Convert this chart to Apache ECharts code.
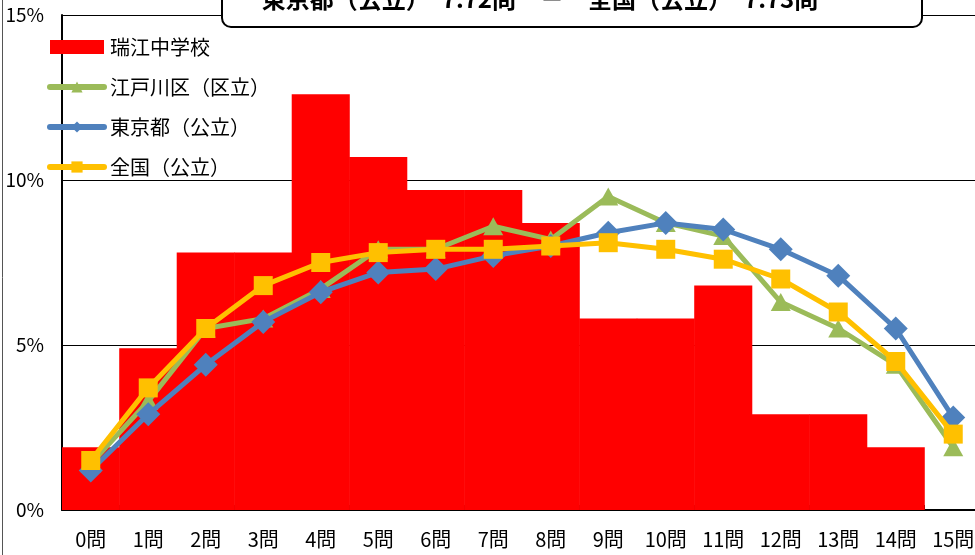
<!DOCTYPE html>
<html>
<head>
<meta charset="utf-8">
<script src="https://cdn.jsdelivr.net/npm/echarts@6/dist/echarts.min.js"></script>
<style>
  html, body { margin: 0; padding: 0; background: #fff; }
  #chart { width: 975px; height: 555px; }
</style>
</head>
<body>
<div id="chart"></div>
<script>
const categories = ['0問', '1問', '2問', '3問', '4問', '5問', '6問', '7問', '8問', '9問', '10問', '11問', '12問', '13問', '14問', '15問'];
const schoolValues = [1.9, 4.9, 7.8, 7.8, 12.6, 10.7, 9.7, 9.7, 8.7, 5.8, 5.8, 6.8, 2.9, 2.9, 1.9, 0];
const edogawaValues = [1.4, 3.3, 5.5, 5.8, 6.7, 7.9, 7.9, 8.6, 8.2, 9.5, 8.7, 8.3, 6.3, 5.5, 4.4, 1.9];
const tokyoValues = [1.2, 2.9, 4.4, 5.7, 6.6, 7.2, 7.3, 7.7, 8.0, 8.4, 8.7, 8.5, 7.9, 7.1, 5.5, 2.8];
const nationalValues = [1.5, 3.7, 5.5, 6.8, 7.5, 7.8, 7.9, 7.9, 8.0, 8.1, 7.9, 7.6, 7.0, 6.0, 4.5, 2.3];
const titleText = '東京都（公立）　7.72問　－　全国（公立）　7.73問';

const chart = echarts.init(document.getElementById('chart'));

const jpFont = '"Noto Sans CJK JP", sans-serif';
const narrowFont = '"Liberation Sans Narrow", "Noto Sans CJK JP", sans-serif';

const lineSeries = (name, data, color, symbol, size, z) => ({
  name,
  type: 'line',
  data,
  z,
  symbol,
  symbolSize: size,
  lineStyle: { color, width: 5 },
  itemStyle: { color },
  emphasis: { disabled: true }
});

const option = {
  animation: false,
  textStyle: { fontFamily: jpFont },
  // plot runs slightly past the right edge of the picture
  grid: { left: 62, width: 920, top: 15, height: 495, outerBoundsMode: 'none' },
  legend: {
    orient: 'vertical',
    left: 47,
    top: 37,
    padding: 0,
    itemWidth: 54,
    itemHeight: 14,
    itemGap: 20,
    lineStyle: { width: 6, cap: 'round' },
    textStyle: { fontSize: 20, color: '#000', fontFamily: jpFont, lineHeight: 20, padding: [0, 0, 0, 1] },
    data: [
      { name: '瑞江中学校', icon: 'rect' },
      '江戸川区（区立）',
      '東京都（公立）',
      '全国（公立）'
    ]
  },
  xAxis: {
    type: 'category',
    data: categories,
    axisLine: { lineStyle: { color: '#000', width: 2 } },
    axisTick: { show: true, inside: true, length: 5, interval: 0, lineStyle: { color: '#000' } },
    axisLabel: { color: '#000', fontSize: 20, fontFamily: narrowFont, margin: 19, interval: 0 }
  },
  yAxis: {
    type: 'value',
    min: 0,
    max: 15,
    interval: 5,
    axisLine: { show: true, lineStyle: { color: '#000', width: 2 } },
    axisTick: { show: false },
    axisLabel: { color: '#000', fontSize: 19, fontFamily: narrowFont, margin: 18, formatter: '{value}%' },
    splitLine: { lineStyle: { color: '#000', width: 1 } }
  },
  series: [
    {
      name: '瑞江中学校',
      type: 'bar',
      data: schoolValues,
      barWidth: '101%',
      itemStyle: { color: '#FF0000' },
      z: 1,
      emphasis: { disabled: true }
    },
    lineSeries('江戸川区（区立）', edogawaValues, '#9BBB59', 'triangle', [20, 18], 3),
    lineSeries('東京都（公立）', tokyoValues, '#4F81BD', 'diamond', 24, 4),
    lineSeries('全国（公立）', nationalValues, '#FFC000', 'rect', 19, 5)
  ],
  graphic: [
    {
      type: 'line',
      shape: { x1: 2.5, y1: 0, x2: 2.5, y2: 555 },
      style: { stroke: '#555', lineWidth: 1 }
    },
    {
      type: 'rect',
      shape: { x: 222, y: -30, width: 700, height: 57, r: 9 },
      style: { fill: '#fff', stroke: '#000', lineWidth: 2 },
      z: 100
    },
    {
      type: 'text',
      x: 540,
      y: -1,
      z: 101,
      style: {
        text: titleText,
        fill: '#000',
        font: 'bold 24px "Noto Sans CJK JP"',
        textAlign: 'center',
        textVerticalAlign: 'middle'
      }
    }
  ]
};

chart.setOption(option);
</script>
</body>
</html>
